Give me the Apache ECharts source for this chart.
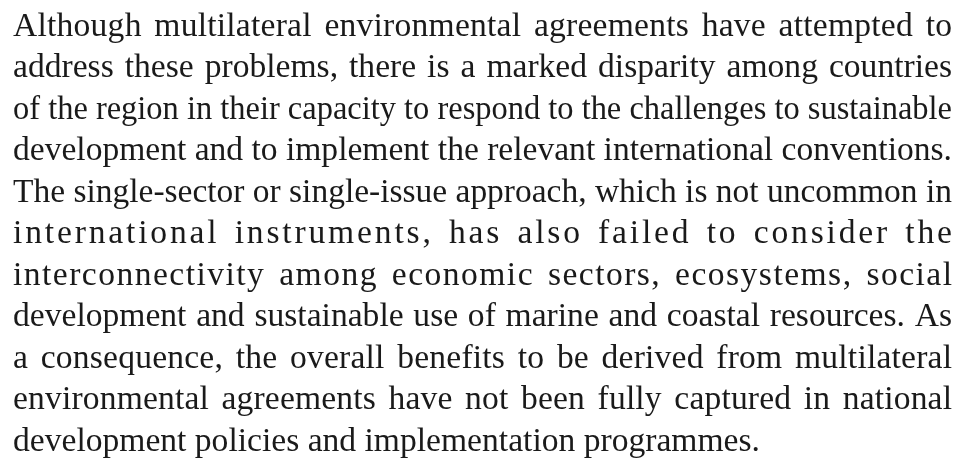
<!DOCTYPE html>
<html>
<head>
<meta charset="utf-8">
<script src="https://cdn.jsdelivr.net/npm/echarts@6/dist/echarts.min.js"></script>
<style>
  html, body { margin: 0; background: #fff; }
  #chart { width: 961px; height: 467px; }
</style>
</head>
<body>
<div id="chart"></div>
<script>
// paragraph text, one entry per printed line
const paragraphLines = [
  'Although multilateral environmental agreements have attempted to',
  'address these problems, there is a marked disparity among countries',
  'of the region in their capacity to respond to the challenges to sustainable',
  'development and to implement the relevant international conventions.',
  'The single-sector or single-issue approach, which is not uncommon in',
  'international instruments, has also failed to consider the',
  'interconnectivity among economic sectors, ecosystems, social',
  'development and sustainable use of marine and coastal resources. As',
  'a consequence, the overall benefits to be derived from multilateral',
  'environmental agreements have not been fully captured in national',
  'development policies and implementation programmes.'
]
// lines that are set flush left instead of justified
const raggedLines = [10]

const fontSize = 33.6
const fontFamily = 'Liberation Serif'
const left = 13
const right = 952
const firstBaseline = 34.5
const lineStep = 41.5
const maxWordExtra = fontSize * 0.12

const ctx = document.createElement('canvas').getContext('2d')
ctx.font = fontSize + 'px "' + fontFamily + '"'
const measure = s => ctx.measureText(s).width

function layoutLine (line, idx) {
  const els = []
  const natural = measure(line)
  const target = right - left
  const gaps = line.split(' ').length - 1
  const charGaps = line.length - 1
  let scale = 1
  let wordExtra = 0
  let letterExtra = 0
  if (raggedLines.indexOf(idx) < 0) {
    const extra = target - natural
    if (extra < 0) {
      scale = target / natural
    } else {
      wordExtra = gaps ? Math.min(maxWordExtra, extra / gaps) : 0
      letterExtra = charGaps ? (extra - wordExtra * gaps) / charGaps : 0
    }
  }
  let spaces = 0
  for (let i = 0; i < line.length; i++) {
    const ch = line[i]
    if (ch === ' ') { spaces++; continue }
    els.push({
      type: 'text',
      x: left + scale * measure(line.slice(0, i)) + letterExtra * i + wordExtra * spaces,
      y: firstBaseline + idx * lineStep - fontSize * 0.22,
      scaleX: scale,
      silent: true,
      style: {
        text: ch,
        fill: '#1a1a1a',
        fontSize: fontSize,
        fontFamily: fontFamily,
        align: 'left',
        verticalAlign: 'middle'
      }
    })
  }
  return els
}

const chart = echarts.init(document.getElementById('chart'), null, { renderer: 'canvas' })
let elements = []
paragraphLines.forEach((line, i) => { elements = elements.concat(layoutLine(line, i)) })
chart.setOption({
  backgroundColor: '#ffffff',
  animation: false,
  graphic: { elements: elements }
})
window.addEventListener('resize', () => chart.resize())
</script>
</body>
</html>
